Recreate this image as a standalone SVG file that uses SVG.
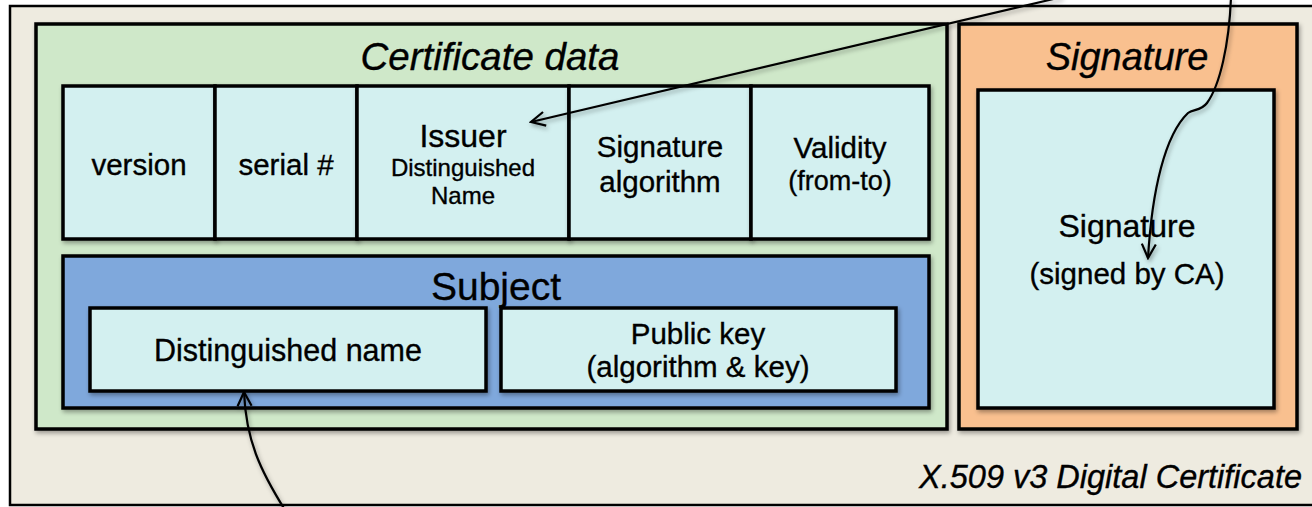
<svg xmlns="http://www.w3.org/2000/svg" width="1312" height="507" viewBox="0 0 1312 507">
<defs>
<style>
text{font-family:"Liberation Sans",Arial,Helvetica,sans-serif;fill:#000;stroke:#000;stroke-width:0.35;text-anchor:middle}
.it{font-style:italic}
.box{stroke:#000;stroke-width:3.5}
.cell{fill:#d3f0f0}
.m{font-size:29.5px}
.s{font-size:24px}
.conn{fill:none;stroke:#000;stroke-width:2.2}
</style>
<filter id="sh" x="-10%" y="-10%" width="120%" height="130%">
<feDropShadow dx="1.5" dy="2.5" stdDeviation="2" flood-color="#000" flood-opacity="0.35"/>
</filter>
<marker id="arr" viewBox="0 0 20 20" refX="18" refY="10" markerWidth="20" markerHeight="20" markerUnits="userSpaceOnUse" orient="auto">
<polyline points="4,3 18,10 4,17" fill="none" stroke="#000" stroke-width="2.2"/>
</marker>
</defs>
<rect width="1312" height="507" fill="#ffffff"/>
<g id="certificate">
<rect x="10" y="6" width="1320" height="499" fill="#eeebe0" stroke="#000" stroke-width="2.5"/>
<text class="it" x="1302" y="488" font-size="32.5" style="text-anchor:end">X.509 v3 Digital Certificate</text>
</g>
<g id="certificate-data">
<rect class="box" x="36" y="24" width="911" height="405" fill="#cfe8c9" filter="url(#sh)"/>
<text class="it" x="490" y="70" font-size="38.5">Certificate data</text>
</g>
<g id="version">
<rect class="box cell" x="63" y="86" width="152" height="153" filter="url(#sh)"/>
<text class="m" x="139" y="175">version</text>
</g>
<g id="serial">
<rect class="box cell" x="215" y="86" width="142" height="153" filter="url(#sh)"/>
<text class="m" x="286" y="175">serial #</text>
</g>
<g id="issuer">
<rect class="box cell" x="357" y="86" width="212" height="153" filter="url(#sh)"/>
<text x="463" y="147" font-size="32">Issuer</text>
<text class="s" x="463" y="176">Distinguished</text>
<text class="s" x="463" y="204">Name</text>
</g>
<g id="signature-algorithm">
<rect class="box cell" x="569" y="86" width="182" height="153" filter="url(#sh)"/>
<text class="m" x="660" y="157">Signature</text>
<text class="m" x="660" y="192">algorithm</text>
</g>
<g id="validity">
<rect class="box cell" x="751" y="86" width="178" height="153" filter="url(#sh)"/>
<text class="m" x="840" y="158">Validity</text>
<text x="840" y="190" font-size="27">(from-to)</text>
</g>
<g id="subject">
<rect class="box" x="63" y="256" width="866" height="152" fill="#7fa8dc" filter="url(#sh)"/>
<text x="496" y="300" font-size="39">Subject</text>
</g>
<g id="subject-dn">
<rect class="box cell" x="90" y="308" width="396" height="83" filter="url(#sh)"/>
<text x="288" y="361" font-size="30.5">Distinguished name</text>
</g>
<g id="public-key">
<rect class="box cell" x="501" y="308" width="395" height="83" filter="url(#sh)"/>
<text class="m" x="698" y="344">Public key</text>
<text class="m" x="698" y="377">(algorithm &amp; key)</text>
</g>
<g id="signature">
<rect class="box" x="959" y="24" width="338" height="405" fill="#f9c08f" filter="url(#sh)"/>
<text class="it" x="1127" y="70" font-size="38">Signature</text>
</g>
<g id="signature-value">
<rect class="box cell" x="978" y="90" width="296" height="318" filter="url(#sh)"/>
<text x="1127" y="237" font-size="32">Signature</text>
<text class="m" x="1127" y="284">(signed by CA)</text>
</g>
<g id="connectors" filter="url(#sh)">
<path class="conn" d="M1062,-3 L531,122" marker-end="url(#arr)"/>
<path class="conn" d="M1231,-2 C1229,45 1220,85 1207,103 C1201,111 1193,109 1188,113 C1165,135 1152,190 1148,258" marker-end="url(#arr)"/>
<path class="conn" d="M285,510 C260,470 246,440 244,392" marker-end="url(#arr)"/>
</g>
</svg>
